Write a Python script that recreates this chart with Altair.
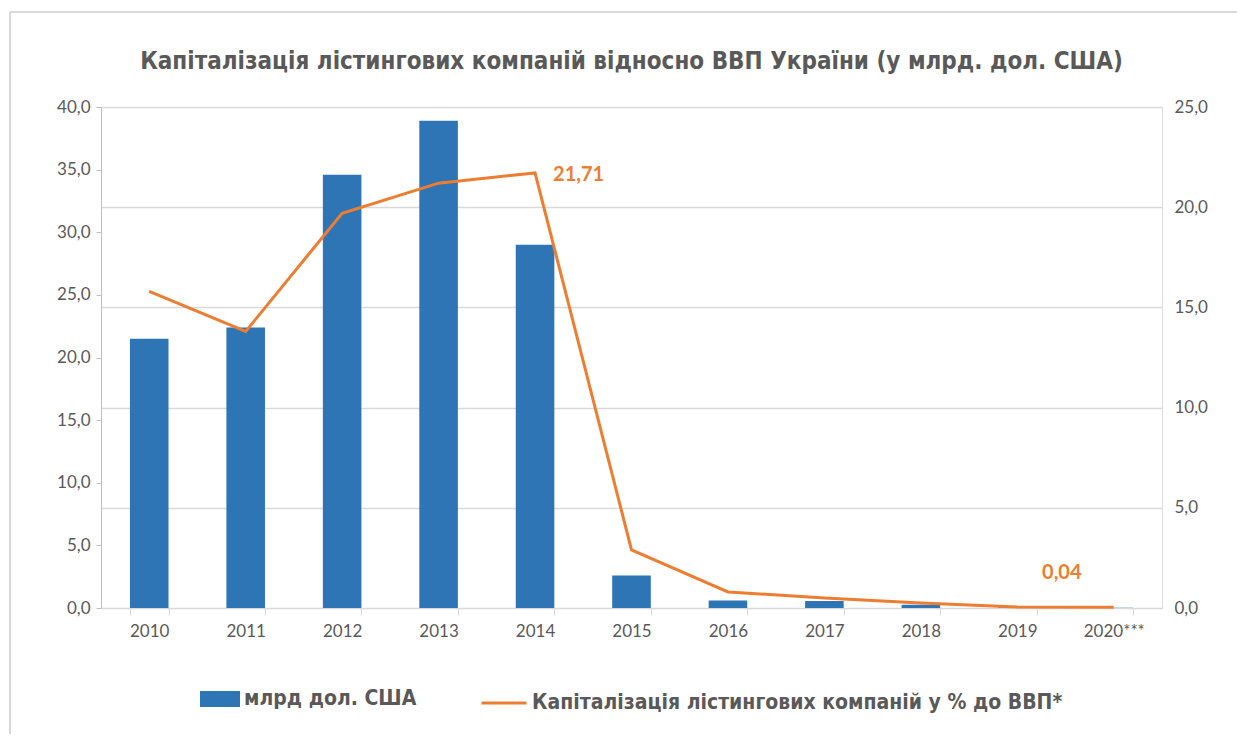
import altair as alt
import pandas as pd

years = ["2010", "2011", "2012", "2013", "2014", "2015", "2016", "2017", "2018", "2019", "2020***"]
cap_bln = [21.5, 22.4, 34.6, 38.9, 29.0, 2.6, 0.6, 0.55, 0.25, 0.05, 0.02]
cap_pct = [15.8, 13.8, 19.7, 21.2, 21.71, 2.9, 0.8, 0.5, 0.25, 0.05, 0.04]

bar_name = "млрд дол. США"
line_name = "Капіталізація  лістингових компаній у % до ВВП*"
title = "Капіталізація лістингових компаній відносно ВВП України (у млрд. дол. США)"

df = pd.DataFrame({"year": years, "bln": cap_bln, "pct": cap_pct,
                   "bs": [bar_name] * len(years), "ls": [line_name] * len(years)})
df["t"] = [f"{v:.2f}".replace(".", ",") for v in df["pct"]]

GRAY = "#595959"
TICKF = "Lato"
NARROW = "Liberation Sans Narrow, DejaVu Sans Condensed, sans-serif"
BLUE = "#2E75B6"
ORANGE = "#ED7D31"

x = alt.X("year:N", sort=years, title=None,
          scale=alt.Scale(paddingInner=0.6, paddingOuter=0.3),
          axis=alt.Axis(labelAngle=0, tickBand="extent", domainColor="#d9d9d9",
                        tickColor="#d9d9d9", tickSize=7, labelFontSize=17,
                        labelColor=GRAY, labelFont=TICKF, labelPadding=8))

bars = alt.Chart(df).mark_bar(color=BLUE).encode(
    x=x,
    y=alt.Y("bln:Q", title=None,
            scale=alt.Scale(domain=[0, 40]),
            axis=alt.Axis(values=[0, 5, 10, 15, 20, 25, 30, 35, 40], grid=False,
                          labelExpr="replace(format(datum.value, '.1f'), '.', ',')",
                          domainColor="#bfbfbf", tickColor="#bfbfbf", tickSize=5,
                          labelFontSize=17, labelColor=GRAY, labelFont=TICKF, labelPadding=6)),
    fill=alt.Fill("bs:N", scale=alt.Scale(range=[BLUE]),
                  legend=alt.Legend(title=None, orient="none", legendX=99, legendY=572,
                                    symbolType="M-1,-0.4H1V0.4H-1Z", symbolSize=1600,
                                    labelFontSize=21, labelFont=NARROW, labelFontWeight="bold",
                                    labelColor=GRAY, symbolStrokeWidth=0, labelLimit=800,
                                    labelOffset=4)),
)

ypct = alt.Y("pct:Q", title=None, scale=alt.Scale(domain=[0, 25]),
             axis=alt.Axis(orient="right", values=[0, 5, 10, 15, 20, 25], grid=True,
                           gridColor="#d9d9d9", gridWidth=1.5, domain=False, ticks=False,
                           labelExpr="replace(format(datum.value, '.1f'), '.', ',')",
                           labelFontSize=17, labelColor=GRAY, labelFont=TICKF, labelPadding=12))

line = alt.Chart(df).mark_line(strokeWidth=3).encode(
    x=x,
    y=ypct,
    stroke=alt.Stroke("ls:N", scale=alt.Scale(range=[ORANGE]),
                      legend=alt.Legend(title=None, orient="none", legendX=379, legendY=572,
                                        symbolType="stroke", symbolSize=2025, symbolStrokeWidth=3,
                                        labelFontSize=21, labelFont=NARROW, labelFontWeight="bold",
                                        labelColor=GRAY, labelLimit=800, labelOffset=4)),
)

lab1 = alt.Chart(df[df["year"] == "2014"]).mark_text(
    align="left", baseline="middle", dx=18, dy=2, fontSize=20, fontWeight="bold",
    color=ORANGE, font="Lato"
).encode(x=x, y=ypct, text="t:N")

lab2 = alt.Chart(df[df["year"] == "2020***"]).mark_text(
    align="center", baseline="middle", dx=-52, dy=-34, fontSize=20, fontWeight="bold",
    color=ORANGE, font="Lato"
).encode(x=x, y=ypct, text="t:N")

right = alt.layer(line, lab1, lab2)

# light frame of the chart (top and left edges, as in the cropped reference)
frame_df = pd.DataFrame({"k": [0]})
frame_left = alt.Chart(frame_df).mark_rule(color="#d9d9d9", strokeWidth=2).encode(
    x=alt.value(-91), y=alt.value(-95), y2=alt.value(640))
frame_top = alt.Chart(frame_df).mark_rule(color="#d9d9d9", strokeWidth=2).encode(
    x=alt.value(-91), x2=alt.value(1140), y=alt.value(-95))

chart = alt.layer(frame_left, frame_top, bars, right).resolve_scale(
    y="independent", fill="independent", stroke="independent").properties(
    width=1061, height=501,
    title=alt.TitleParams(title, fontSize=24, font=NARROW, fontWeight="bold", color=GRAY,
                          anchor="middle", offset=-63),
    autosize=alt.AutoSizeParams(type="none"),
    padding={"left": 93, "top": 99, "right": 75, "bottom": 126},
).configure_view(strokeWidth=0).configure(background="white")

chart.save("out.html", embed_options={"renderer": "svg", "actions": False})
